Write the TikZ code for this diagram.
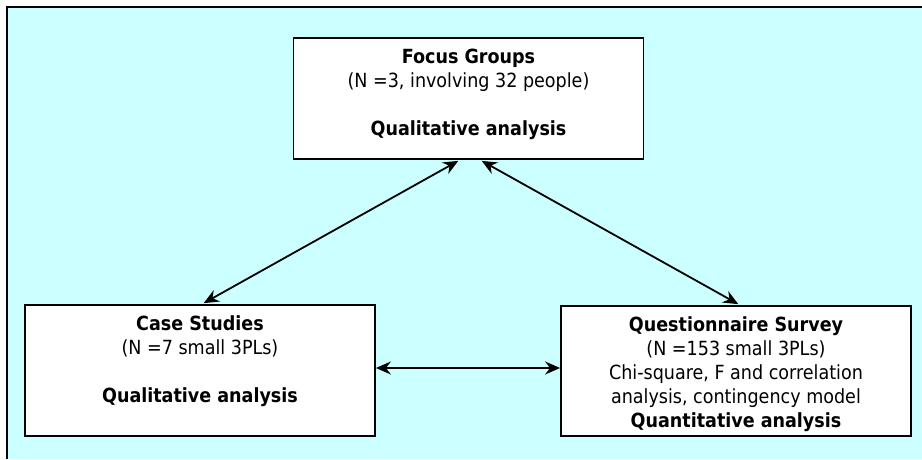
\documentclass[tikz,border=0pt]{standalone}
\usepackage{fontspec}
\setmainfont{DejaVu Sans Condensed}
\usetikzlibrary{positioning,arrows.meta}
\definecolor{bgcyan}{RGB}{204,255,255}
\tikzset{
	box/.style={draw=black, line width=1.8pt, fill=white, minimum width=350pt, inner sep=0pt},
	boxtext/.style={align=center, inner sep=0pt, font=\fontsize{19.5}{24}\selectfont},
	link/.style={<->, line width=1.8pt, shorten <=2pt, shorten >=2pt},
}
\begin{document}
\begin{tikzpicture}[x=1pt, y=-1pt, >={Stealth[length=15pt,width=13pt,inset=5pt]}]
	\useasboundingbox (0,0) rectangle (922,459);
	\fill[bgcyan] (7,7) rectangle (922,459);
	\draw[line width=2.2pt] (7,459) -- (7,7) -- (922,7);
	\path
		(468.5,98.5) node[box, minimum height=121pt] (focus) {}
		(200,370.5) node[box, minimum height=131pt] (case) {}
		(736,371) node[box, minimum height=130pt] (survey) {}
	;
	\node[boxtext, below=12pt of focus.north] (focustext)
		{\textbf{Focus Groups}\\(N =3, involving 32 people)\\[24pt]\textbf{Qualitative analysis}};
	\node[boxtext, below=11pt of case.north] (casetext)
		{\textbf{Case Studies}\\(N =7 small 3PLs)\\[24pt]\textbf{Qualitative analysis}};
	\node[boxtext, below=11pt of survey.north] (surveytext)
		{\textbf{Questionnaire Survey}\\(N =153 small 3PLs)\\Chi-square, F and correlation\\analysis, contingency model\\\textbf{Quantitative analysis}};
	
	\draw[link] ([xshift=-8.5pt]focus.south) -- ([xshift=2pt]case.north);
	\draw[link] ([xshift=11.5pt]focus.south) -- ([xshift=4pt]survey.north);
	\draw[link, shorten <=0pt, shorten >=0pt] ([yshift=2.5pt]case.east) -- ([yshift=2.5pt]case.east -| survey.west);
\end{tikzpicture}
\end{document}
